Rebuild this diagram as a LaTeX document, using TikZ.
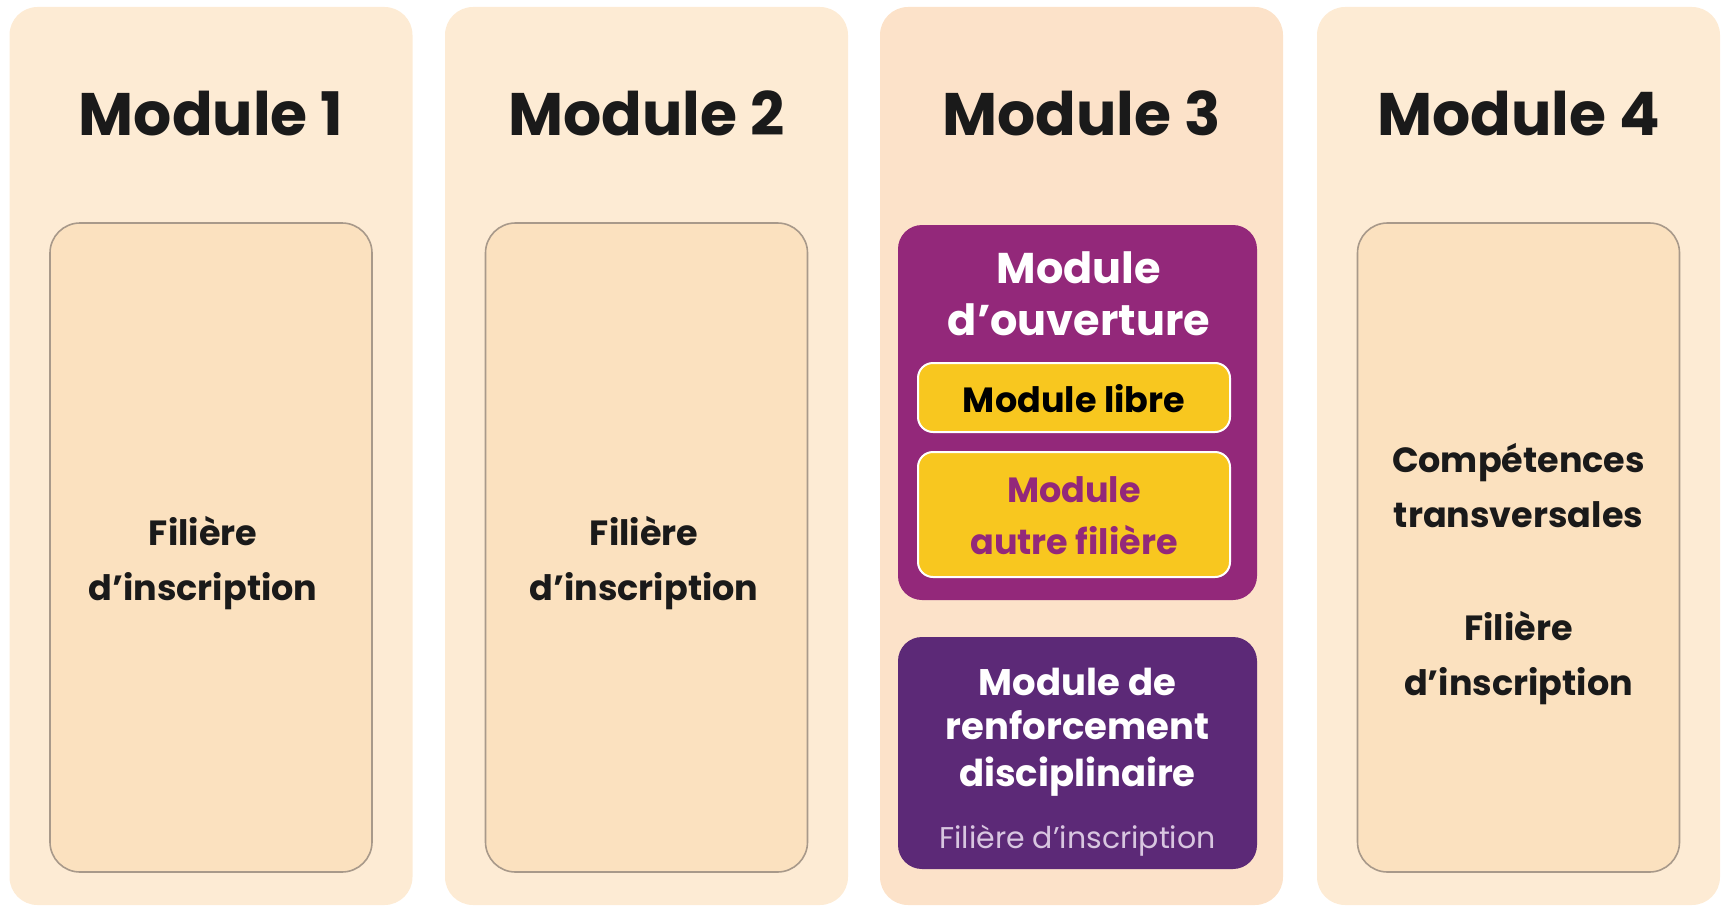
\documentclass[tikz,border=0pt]{standalone}
\usepackage{fontspec}
\setmainfont{Poppins}
\definecolor{peach}{HTML}{FDEBD4}
\definecolor{peachdark}{HTML}{FCE2C9}
\definecolor{innerfill}{HTML}{FBE1BF}
\definecolor{innerline}{HTML}{A8998A}
\definecolor{purpleA}{HTML}{93287A}
\definecolor{purpleB}{HTML}{5C2977}
\definecolor{yellowbox}{HTML}{F8C71F}
\definecolor{lavender}{HTML}{D8C6E0}
\definecolor{ink}{HTML}{1A1A1A}
\begin{document}
\begin{tikzpicture}[x=1pt,y=-1pt,
  panel/.style={fill=peach, draw=none, rounded corners=28pt, minimum width=403pt, minimum height=898pt, inner sep=0pt},
  innerbox/.style={fill=innerfill, draw=innerline, line width=1.6pt, rounded corners=30pt, minimum width=322pt, minimum height=649pt, inner sep=0pt},
  purplebox/.style={draw=none, rounded corners=24pt, minimum width=359pt, inner sep=0pt},
  yellowb/.style={fill=yellowbox, draw=white, line width=2pt, rounded corners=15pt, minimum width=312pt, inner sep=0pt},
  heading/.style={anchor=base, text=ink, font=\fontsize{60}{72}\selectfont\bfseries},
  bodytxt/.style={anchor=base, text=ink, font=\fontsize{35}{42}\selectfont\bfseries},
  whitetxt/.style={anchor=base, text=white, font=\fontsize{43}{50}\selectfont\bfseries},
  renftxt/.style={anchor=base, text=white, font=\fontsize{37}{44}\selectfont\bfseries},
]
\useasboundingbox (0,0) rectangle (1721,907);

% panels
\node[panel] (p1) at (211,456) {};
\node[panel] (p2) at (646.5,456) {};
\node[panel, fill=peachdark] (p3) at (1081.5,456) {};
\node[panel] (p4) at (1518.5,456) {};

% headings
\node[heading] (h1) at (211,135) {Module 1};
\node[heading] (h2) at (646.5,135) {Module 2};
\node[heading] (h3) at (1081.5,135) {Module 3};
\node[heading] (h4) at (1518.5,135) {Module 4};

% inner boxes
\node[innerbox] (i1) at (211,547.5) {};
\node[innerbox] (i2) at (646.5,547.5) {};
\node[innerbox] (i4) at (1518.5,547.5) {};

\node[bodytxt] (t1a) at (203,545) {Filière};
\node[bodytxt] (t1b) at (203,600) {d’inscription};
\node[bodytxt] (t2a) at (644,545) {Filière};
\node[bodytxt] (t2b) at (644,600) {d’inscription};
\node[bodytxt] (t4a) at (1518.5,472) {Compétences};
\node[bodytxt] (t4b) at (1518.5,527) {transversales};
\node[bodytxt] (t4c) at (1518.5,640) {Filière};
\node[bodytxt] (t4d) at (1518.5,695) {d’inscription};

% module 3 content
\node[purplebox, fill=purpleA, minimum height=375pt] (ouv) at (1077.5,412.5) {};
\node[whitetxt] (ouva) at (1079,283) {Module};
\node[whitetxt] (ouvb) at (1079,335) {d’ouverture};
\node[yellowb, minimum height=69pt] (libre) at (1074,397.5) {};
\node[anchor=base, text=black, font=\fontsize{35}{42}\selectfont\bfseries] (librt) at (1074,412) {Module libre};
\node[yellowb, minimum height=125pt] (autre) at (1074,514.5) {};
\node[anchor=base, text=purpleA, font=\fontsize{35}{42}\selectfont\bfseries] (autra) at (1074,502) {Module};
\node[anchor=base, text=purpleA, font=\fontsize{35}{42}\selectfont\bfseries] (autrb) at (1074,554) {autre filière};

\node[purplebox, fill=purpleB, minimum height=232pt] (renf) at (1077.5,753) {};
\node[renftxt] (renfa) at (1077.5,695) {Module de};
\node[renftxt] (renfb) at (1077.5,739) {renforcement};
\node[renftxt] (renfc) at (1077.5,786) {disciplinaire};
\node[anchor=base, text=lavender, font=\fontsize{30}{36}\selectfont] (renfd) at (1077.5,848) {Filière d{\char"27}inscription};
\end{tikzpicture}
\end{document}
